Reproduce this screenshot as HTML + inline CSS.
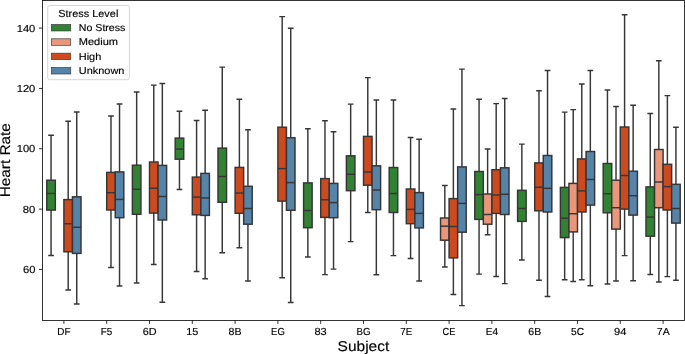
<!DOCTYPE html>
<html><head><meta charset="utf-8"><style>
html,body{margin:0;padding:0;background:#fff;width:685px;height:354px;overflow:hidden}
svg{display:block;will-change:transform}
text{font-family:"Liberation Sans",sans-serif;fill:#000;text-rendering:geometricPrecision}
.tl,.lg{font-size:10.2px}
.lg2{font-size:10.0px}
text{stroke:#000;stroke-width:0.15px}
.al{font-size:14.2px}
.w{stroke:#363636;stroke-width:1.45;fill:none;stroke-linecap:square}
.b{stroke:#363636;stroke-width:1.45}
.m{stroke:#363636;stroke-width:1.45;fill:none}
.t{stroke:#000;stroke-width:0.8;fill:none}
</style></head><body>
<svg width="685" height="354" viewBox="0 0 685 354">
<rect width="685" height="354" fill="#fff"/>
<path d="M51.06 180.2V135.2M48.92 135.2H53.2M51.06 210.1V255.5M48.92 255.5H53.2" class="w"/>
<rect x="46.78" y="180.2" width="8.56" height="29.9" fill="#318232" class="b"/>
<path d="M46.78 193.4H55.34" class="m"/>
<path d="M68.18 199.6V121.2M66.04 121.2H70.32M68.18 251.8V289.9M66.04 289.9H70.32" class="w"/>
<rect x="63.9" y="199.6" width="8.56" height="52.2" fill="#CD4A1F" class="b"/>
<path d="M63.9 223.7H72.46" class="m"/>
<path d="M76.74 196.8V111.9M74.6 111.9H78.88M76.74 253.4V303.9M74.6 303.9H78.88" class="w"/>
<rect x="72.46" y="196.8" width="8.56" height="56.6" fill="#5683A8" class="b"/>
<path d="M72.46 227.3H81.02" class="m"/>
<path d="M110.98 172.4V115.9M108.84 115.9H113.12M110.98 210V267.5M108.84 267.5H113.12" class="w"/>
<rect x="106.7" y="172.4" width="8.56" height="37.6" fill="#CD4A1F" class="b"/>
<path d="M106.7 192.7H115.26" class="m"/>
<path d="M119.54 171.9V103.9M117.4 103.9H121.68M119.54 217.7V286M117.4 286H121.68" class="w"/>
<rect x="115.26" y="171.9" width="8.56" height="45.8" fill="#5683A8" class="b"/>
<path d="M115.26 199.4H123.82" class="m"/>
<path d="M136.66 165.2V91.9M134.52 91.9H138.8M136.66 214.3V283M134.52 283H138.8" class="w"/>
<rect x="132.38" y="165.2" width="8.56" height="49.1" fill="#318232" class="b"/>
<path d="M132.38 189.3H140.94" class="m"/>
<path d="M153.78 162V85.1M151.64 85.1H155.92M153.78 213.1V264.5M151.64 264.5H155.92" class="w"/>
<rect x="149.5" y="162" width="8.56" height="51.1" fill="#CD4A1F" class="b"/>
<path d="M149.5 188.2H158.06" class="m"/>
<path d="M162.34 165.4V83.4M160.2 83.4H164.48M162.34 220V302.2M160.2 302.2H164.48" class="w"/>
<rect x="158.06" y="165.4" width="8.56" height="54.6" fill="#5683A8" class="b"/>
<path d="M158.06 196.5H166.62" class="m"/>
<path d="M179.46 138.1V111.3M177.32 111.3H181.6M179.46 159.2V189.5M177.32 189.5H181.6" class="w"/>
<rect x="175.18" y="138.1" width="8.56" height="21.1" fill="#318232" class="b"/>
<path d="M175.18 149.1H183.74" class="m"/>
<path d="M196.58 177.1V120.4M194.44 120.4H198.72M196.58 214.8V271.5M194.44 271.5H198.72" class="w"/>
<rect x="192.3" y="177.1" width="8.56" height="37.7" fill="#CD4A1F" class="b"/>
<path d="M192.3 197.1H200.86" class="m"/>
<path d="M205.14 173.4V110.3M203 110.3H207.28M205.14 215.4V278.8M203 278.8H207.28" class="w"/>
<rect x="200.86" y="173.4" width="8.56" height="42" fill="#5683A8" class="b"/>
<path d="M200.86 198H209.42" class="m"/>
<path d="M222.26 148.1V67.1M220.12 67.1H224.4M222.26 202.3V252.7M220.12 252.7H224.4" class="w"/>
<rect x="217.98" y="148.1" width="8.56" height="54.2" fill="#318232" class="b"/>
<path d="M217.98 176.5H226.54" class="m"/>
<path d="M239.38 167.4V99.2M237.24 99.2H241.52M239.38 213.3V247.7M237.24 247.7H241.52" class="w"/>
<rect x="235.1" y="167.4" width="8.56" height="45.9" fill="#CD4A1F" class="b"/>
<path d="M235.1 193H243.66" class="m"/>
<path d="M247.94 186.3V129.8M245.8 129.8H250.08M247.94 224.2V280.9M245.8 280.9H250.08" class="w"/>
<rect x="243.66" y="186.3" width="8.56" height="37.9" fill="#5683A8" class="b"/>
<path d="M243.66 208.5H252.22" class="m"/>
<path d="M282.18 127.2V16.6M280.04 16.6H284.32M282.18 201.1V277.8M280.04 277.8H284.32" class="w"/>
<rect x="277.9" y="127.2" width="8.56" height="73.9" fill="#CD4A1F" class="b"/>
<path d="M277.9 168.6H286.46" class="m"/>
<path d="M290.74 137.8V28.3M288.6 28.3H292.88M290.74 210.3V302.5M288.6 302.5H292.88" class="w"/>
<rect x="286.46" y="137.8" width="8.56" height="72.5" fill="#5683A8" class="b"/>
<path d="M286.46 182.6H295.02" class="m"/>
<path d="M307.86 182.9V128.7M305.72 128.7H310M307.86 227.7V256.9M305.72 256.9H310" class="w"/>
<rect x="303.58" y="182.9" width="8.56" height="44.8" fill="#318232" class="b"/>
<path d="M303.58 210.5H312.14" class="m"/>
<path d="M324.98 178.6V120.7M322.84 120.7H327.12M324.98 217.4V274.6M322.84 274.6H327.12" class="w"/>
<rect x="320.7" y="178.6" width="8.56" height="38.8" fill="#CD4A1F" class="b"/>
<path d="M320.7 199.7H329.26" class="m"/>
<path d="M333.54 183.4V131.8M331.4 131.8H335.68M333.54 217.7V269.1M331.4 269.1H335.68" class="w"/>
<rect x="329.26" y="183.4" width="8.56" height="34.3" fill="#5683A8" class="b"/>
<path d="M329.26 202.6H337.82" class="m"/>
<path d="M350.66 155.8V104.1M348.52 104.1H352.8M350.66 190.7V241.6M348.52 241.6H352.8" class="w"/>
<rect x="346.38" y="155.8" width="8.56" height="34.9" fill="#318232" class="b"/>
<path d="M346.38 174.3H354.94" class="m"/>
<path d="M367.78 136.4V77.6M365.64 77.6H369.92M367.78 185.2V212.5M365.64 212.5H369.92" class="w"/>
<rect x="363.5" y="136.4" width="8.56" height="48.8" fill="#CD4A1F" class="b"/>
<path d="M363.5 172H372.06" class="m"/>
<path d="M376.34 165.8V100M374.2 100H378.48M376.34 209.7V274.7M374.2 274.7H378.48" class="w"/>
<rect x="372.06" y="165.8" width="8.56" height="43.9" fill="#5683A8" class="b"/>
<path d="M372.06 190H380.62" class="m"/>
<path d="M393.46 167.5V100M391.32 100H395.6M393.46 212.5V255.6M391.32 255.6H395.6" class="w"/>
<rect x="389.18" y="167.5" width="8.56" height="45" fill="#318232" class="b"/>
<path d="M389.18 193.5H397.74" class="m"/>
<path d="M410.58 189V137.5M408.44 137.5H412.72M410.58 223.7V258.4M408.44 258.4H412.72" class="w"/>
<rect x="406.3" y="189" width="8.56" height="34.7" fill="#CD4A1F" class="b"/>
<path d="M406.3 209.4H414.86" class="m"/>
<path d="M419.14 192.6V139.2M417 139.2H421.28M419.14 227.9V280.9M417 280.9H421.28" class="w"/>
<rect x="414.86" y="192.6" width="8.56" height="35.3" fill="#5683A8" class="b"/>
<path d="M414.86 213.4H423.42" class="m"/>
<path d="M444.82 218V185.4M442.68 185.4H446.96M444.82 240.2V267M442.68 267H446.96" class="w"/>
<rect x="440.54" y="218" width="8.56" height="22.2" fill="#E9967A" class="b"/>
<path d="M440.54 226.2H449.1" class="m"/>
<path d="M453.38 198.6V109M451.24 109H455.52M453.38 257.9V294.5M451.24 294.5H455.52" class="w"/>
<rect x="449.1" y="198.6" width="8.56" height="59.3" fill="#CD4A1F" class="b"/>
<path d="M449.1 226.5H457.66" class="m"/>
<path d="M461.94 166.9V69.1M459.8 69.1H464.08M461.94 232.2V305.6M459.8 305.6H464.08" class="w"/>
<rect x="457.66" y="166.9" width="8.56" height="65.3" fill="#5683A8" class="b"/>
<path d="M457.66 203.4H466.22" class="m"/>
<path d="M479.06 171.5V99.3M476.92 99.3H481.2M479.06 219.4V274.1M476.92 274.1H481.2" class="w"/>
<rect x="474.78" y="171.5" width="8.56" height="47.9" fill="#318232" class="b"/>
<path d="M474.78 194.6H483.34" class="m"/>
<path d="M487.62 194V148.9M485.48 148.9H489.76M487.62 224.2V234.8M485.48 234.8H489.76" class="w"/>
<rect x="483.34" y="194" width="8.56" height="30.2" fill="#E9967A" class="b"/>
<path d="M483.34 214.5H491.9" class="m"/>
<path d="M496.18 169.7V103.6M494.04 103.6H498.32M496.18 213.4V276.4M494.04 276.4H498.32" class="w"/>
<rect x="491.9" y="169.7" width="8.56" height="43.7" fill="#CD4A1F" class="b"/>
<path d="M491.9 195H500.46" class="m"/>
<path d="M504.74 167.8V98.4M502.6 98.4H506.88M504.74 214.5V283.6M502.6 283.6H506.88" class="w"/>
<rect x="500.46" y="167.8" width="8.56" height="46.7" fill="#5683A8" class="b"/>
<path d="M500.46 194.3H509.02" class="m"/>
<path d="M521.86 190.3V144.1M519.72 144.1H524M521.86 221.4V259.9M519.72 259.9H524" class="w"/>
<rect x="517.58" y="190.3" width="8.56" height="31.1" fill="#318232" class="b"/>
<path d="M517.58 208.5H526.14" class="m"/>
<path d="M538.98 162.9V90.8M536.84 90.8H541.12M538.98 210.8V280.3M536.84 280.3H541.12" class="w"/>
<rect x="534.7" y="162.9" width="8.56" height="47.9" fill="#CD4A1F" class="b"/>
<path d="M534.7 187.2H543.26" class="m"/>
<path d="M547.54 155.5V70.5M545.4 70.5H549.68M547.54 212V296.5M545.4 296.5H549.68" class="w"/>
<rect x="543.26" y="155.5" width="8.56" height="56.5" fill="#5683A8" class="b"/>
<path d="M543.26 188.3H551.82" class="m"/>
<path d="M564.66 187.4V112.1M562.52 112.1H566.8M564.66 237.6V279.8M562.52 279.8H566.8" class="w"/>
<rect x="560.38" y="187.4" width="8.56" height="50.2" fill="#318232" class="b"/>
<path d="M560.38 218.2H568.94" class="m"/>
<path d="M573.22 183.4V109.6M571.08 109.6H575.36M573.22 231.9V281.5M571.08 281.5H575.36" class="w"/>
<rect x="568.94" y="183.4" width="8.56" height="48.5" fill="#E9967A" class="b"/>
<path d="M568.94 213.7H577.5" class="m"/>
<path d="M581.78 158.9V83.9M579.64 83.9H583.92M581.78 212V279.8M579.64 279.8H583.92" class="w"/>
<rect x="577.5" y="158.9" width="8.56" height="53.1" fill="#CD4A1F" class="b"/>
<path d="M577.5 190.9H586.06" class="m"/>
<path d="M590.34 151.5V70.5M588.2 70.5H592.48M590.34 205.1V285.8M588.2 285.8H592.48" class="w"/>
<rect x="586.06" y="151.5" width="8.56" height="53.6" fill="#5683A8" class="b"/>
<path d="M586.06 179.5H594.62" class="m"/>
<path d="M607.46 163.5V89.9M605.32 89.9H609.6M607.46 212.8V284M605.32 284H609.6" class="w"/>
<rect x="603.18" y="163.5" width="8.56" height="49.3" fill="#318232" class="b"/>
<path d="M603.18 193.7H611.74" class="m"/>
<path d="M616.02 180.2V106.4M613.88 106.4H618.16M616.02 229.1V281M613.88 281H618.16" class="w"/>
<rect x="611.74" y="180.2" width="8.56" height="48.9" fill="#E9967A" class="b"/>
<path d="M611.74 207.7H620.3" class="m"/>
<path d="M624.58 127V14.8M622.44 14.8H626.72M624.58 209.1V255.6M622.44 255.6H626.72" class="w"/>
<rect x="620.3" y="127" width="8.56" height="82.1" fill="#CD4A1F" class="b"/>
<path d="M620.3 175.5H628.86" class="m"/>
<path d="M633.14 171.2V105.3M631 105.3H635.28M633.14 215.1V280.7M631 280.7H635.28" class="w"/>
<rect x="628.86" y="171.2" width="8.56" height="43.9" fill="#5683A8" class="b"/>
<path d="M628.86 195.7H637.42" class="m"/>
<path d="M650.26 186.9V113.5M648.12 113.5H652.4M650.26 236.2V274.5M648.12 274.5H652.4" class="w"/>
<rect x="645.98" y="186.9" width="8.56" height="49.3" fill="#318232" class="b"/>
<path d="M645.98 217.1H654.54" class="m"/>
<path d="M658.82 149.5V60.8M656.68 60.8H660.96M658.82 207.7V281.9M656.68 281.9H660.96" class="w"/>
<rect x="654.54" y="149.5" width="8.56" height="58.2" fill="#E9967A" class="b"/>
<path d="M654.54 182H663.1" class="m"/>
<path d="M667.38 164.3V95.6M665.24 95.6H669.52M667.38 210V276.6M665.24 276.6H669.52" class="w"/>
<rect x="663.1" y="164.3" width="8.56" height="45.7" fill="#CD4A1F" class="b"/>
<path d="M663.1 186.6H671.66" class="m"/>
<path d="M675.94 184.3V127.2M673.8 127.2H678.08M675.94 223.1V280.3M673.8 280.3H678.08" class="w"/>
<rect x="671.66" y="184.3" width="8.56" height="38.8" fill="#5683A8" class="b"/>
<path d="M671.66 208.5H680.22" class="m"/>
<rect x="42.5" y="0.5" width="642" height="319.9" fill="none" stroke="#000" stroke-width="0.8"/>
<path d="M39 269.45H42.5M39 209.11H42.5M39 148.77H42.5M39 88.44H42.5M39 28.1H42.5M63.9 320.4V323.9M106.7 320.4V323.9M149.5 320.4V323.9M192.3 320.4V323.9M235.1 320.4V323.9M277.9 320.4V323.9M320.7 320.4V323.9M363.5 320.4V323.9M406.3 320.4V323.9M449.1 320.4V323.9M491.9 320.4V323.9M534.7 320.4V323.9M577.5 320.4V323.9M620.3 320.4V323.9M663.1 320.4V323.9" class="t"/>
<rect x="47.7" y="5.5" width="81.7" height="74.2" rx="2" ry="2" fill="#fff" fill-opacity="0.8" stroke="#d6d6d6" stroke-width="1"/>
<rect x="51.35" y="24.46" width="19.4" height="6.5" fill="#318232" stroke="#363636" stroke-width="0.65"/>
<rect x="51.35" y="38.81" width="19.4" height="6.5" fill="#E9967A" stroke="#363636" stroke-width="0.65"/>
<rect x="51.35" y="53.16" width="19.4" height="6.5" fill="#CD4A1F" stroke="#363636" stroke-width="0.65"/>
<rect x="51.35" y="67.51" width="19.4" height="6.5" fill="#5683A8" stroke="#363636" stroke-width="0.65"/>
<text x="22.98" y="272.95" textLength="12.44" lengthAdjust="spacingAndGlyphs" class="tl">60</text>
<text x="22.84" y="212.61" textLength="12.57" lengthAdjust="spacingAndGlyphs" class="tl">80</text>
<text x="16.71" y="152.27" textLength="18.61" lengthAdjust="spacingAndGlyphs" class="tl">100</text>
<text x="16.71" y="91.94" textLength="18.61" lengthAdjust="spacingAndGlyphs" class="tl">120</text>
<text x="16.71" y="31.6" textLength="18.61" lengthAdjust="spacingAndGlyphs" class="tl">140</text>
<text x="57.33" y="334.9" textLength="13.18" lengthAdjust="spacingAndGlyphs" class="tl">DF</text>
<text x="100.8" y="334.9" textLength="11.47" lengthAdjust="spacingAndGlyphs" class="tl">F5</text>
<text x="142.69" y="334.9" textLength="13.85" lengthAdjust="spacingAndGlyphs" class="tl">6D</text>
<text x="186.27" y="334.9" textLength="12.04" lengthAdjust="spacingAndGlyphs" class="tl">15</text>
<text x="228.59" y="334.9" textLength="13.02" lengthAdjust="spacingAndGlyphs" class="tl">8B</text>
<text x="271.05" y="334.9" textLength="13.75" lengthAdjust="spacingAndGlyphs" class="tl">EG</text>
<text x="314.42" y="334.9" textLength="12.3" lengthAdjust="spacingAndGlyphs" class="tl">83</text>
<text x="356.45" y="334.9" textLength="14.03" lengthAdjust="spacingAndGlyphs" class="tl">BG</text>
<text x="400.35" y="334.9" textLength="12.06" lengthAdjust="spacingAndGlyphs" class="tl">7E</text>
<text x="442.62" y="334.9" textLength="12.82" lengthAdjust="spacingAndGlyphs" class="tl">CE</text>
<text x="485.69" y="334.9" textLength="12.33" lengthAdjust="spacingAndGlyphs" class="tl">E4</text>
<text x="528.32" y="334.9" textLength="12.88" lengthAdjust="spacingAndGlyphs" class="tl">6B</text>
<text x="571.08" y="334.9" textLength="13.03" lengthAdjust="spacingAndGlyphs" class="tl">5C</text>
<text x="614.01" y="334.9" textLength="12.42" lengthAdjust="spacingAndGlyphs" class="tl">94</text>
<text x="656.86" y="334.9" textLength="12.86" lengthAdjust="spacingAndGlyphs" class="tl">7A</text>
<text x="58.31" y="16.55" textLength="60.02" lengthAdjust="spacingAndGlyphs" class="lg">Stress Level</text>
<text x="78.75" y="31" textLength="46.67" lengthAdjust="spacingAndGlyphs" class="lg2">No Stress</text>
<text x="78.72" y="45" textLength="39.3" lengthAdjust="spacingAndGlyphs" class="lg2">Medium</text>
<text x="78.73" y="60" textLength="22.54" lengthAdjust="spacingAndGlyphs" class="lg2">High</text>
<text x="78.74" y="74" textLength="45.67" lengthAdjust="spacingAndGlyphs" class="lg2">Unknown</text>
<text x="337.62" y="350.9" textLength="51.67" lengthAdjust="spacingAndGlyphs" class="al">Subject</text>
<text transform="translate(9.95 196.1) rotate(-90)" x="-1.21" y="0" textLength="74.07" lengthAdjust="spacingAndGlyphs" class="al">Heart Rate</text>
</svg>
</body></html>
